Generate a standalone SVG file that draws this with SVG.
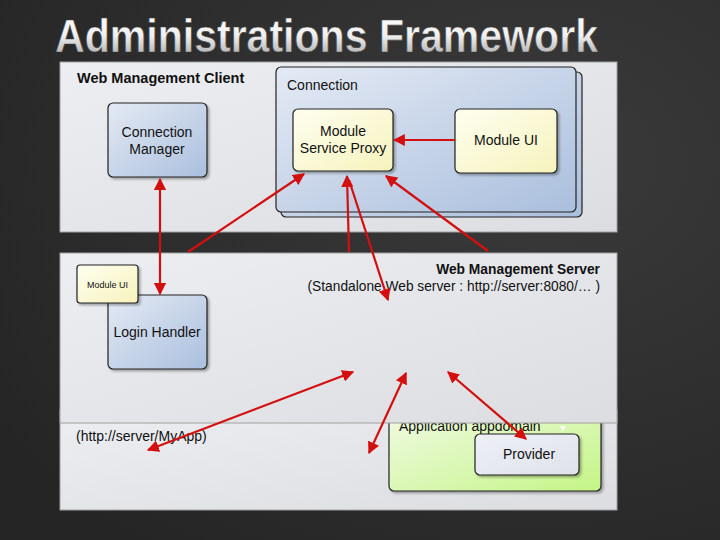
<svg xmlns="http://www.w3.org/2000/svg" width="720" height="540" viewBox="0 0 720 540">
<defs>
<radialGradient id="bg" cx="0.75" cy="0.3" r="0.9">
<stop offset="0" stop-color="#3a3a3a"/>
<stop offset="1" stop-color="#252525"/>
</radialGradient>
<linearGradient id="title" x1="0" y1="0" x2="0" y2="1">
<stop offset="0" stop-color="#ffffff"/>
<stop offset="0.5" stop-color="#f0f0f0"/>
<stop offset="1" stop-color="#9a9a9a"/>
</linearGradient>
<linearGradient id="panel" x1="0" y1="0" x2="1" y2="1">
<stop offset="0" stop-color="#eceef2"/>
<stop offset="1" stop-color="#dcdde0"/>
</linearGradient>
<linearGradient id="blue" x1="0" y1="0" x2="1" y2="1">
<stop offset="0" stop-color="#e4eaf4"/>
<stop offset="1" stop-color="#aabfdd"/>
</linearGradient>
<linearGradient id="yellow" x1="0" y1="0" x2="1" y2="1">
<stop offset="0" stop-color="#fefef0"/>
<stop offset="1" stop-color="#f6f3bc"/>
</linearGradient>
<linearGradient id="green" x1="0" y1="0" x2="1" y2="1">
<stop offset="0" stop-color="#f2fae6"/>
<stop offset="1" stop-color="#c4f586"/>
</linearGradient>
<linearGradient id="gray" x1="0" y1="0" x2="1" y2="1">
<stop offset="0" stop-color="#eef0f6"/>
<stop offset="1" stop-color="#dfe2ea"/>
</linearGradient>
<marker id="ah" viewBox="0 0 10 10" refX="9" refY="5" markerWidth="5.5" markerHeight="5.5" orient="auto-start-reverse" markerUnits="strokeWidth">
<path d="M0,0 L10,5 L0,10 z" fill="#d40f0f"/>
</marker>
<filter id="sh" x="-5%" y="-5%" width="115%" height="115%">
<feDropShadow dx="2" dy="2" stdDeviation="1" flood-color="#000" flood-opacity="0.3"/>
</filter>
</defs>
<style>
.lbl{font-family:"Liberation Sans",Arial,sans-serif;font-size:14px;fill:#111}
.bold{font-weight:bold;font-size:14.5px}
.srv{font-size:13.8px}
.sub{font-size:13.75px}
.small{font-size:9px}
.panel{fill:url(#panel);stroke:#a0a0a0;stroke-width:1}
.node{stroke:#222;stroke-width:1.2;filter:url(#sh)}
.conn{stroke:#d40f0f;stroke-width:2.2;fill:none}
</style>
<rect width="720" height="540" fill="url(#bg)"/>
<text x="55" y="52" font-family="'Liberation Sans',Arial,sans-serif" font-weight="bold" font-size="47" fill="url(#title)" stroke="#444" stroke-width="0.6" textLength="543" lengthAdjust="spacingAndGlyphs">Administrations Framework</text>

<g id="web-management-client">
<rect class="panel" x="60" y="62" width="557" height="170"/>
<text class="lbl bold" x="77" y="83">Web Management Client</text>
</g>
<g id="connection">
<rect x="281" y="72" width="301" height="145" rx="5" fill="url(#blue)" stroke="#222" stroke-width="1.2"/>
<rect x="276" y="67" width="300" height="145" rx="5" fill="url(#blue)" stroke="#222" stroke-width="1.2"/>
<text class="lbl" x="287" y="90">Connection</text>
</g>
<g id="connection-manager">
<rect class="node" x="108" y="103" width="99" height="74" rx="5" fill="url(#blue)"/>
<text class="lbl" x="157" y="137" text-anchor="middle">Connection</text>
<text class="lbl" x="157" y="154" text-anchor="middle">Manager</text>
</g>
<g id="module-service-proxy">
<rect class="node" x="293" y="109" width="100" height="62" rx="5" fill="url(#yellow)"/>
<text class="lbl" x="343" y="136" text-anchor="middle">Module</text>
<text class="lbl" x="343" y="153" text-anchor="middle">Service Proxy</text>
</g>
<g id="module-ui">
<rect class="node" x="455" y="109" width="102" height="64" rx="5" fill="url(#yellow)"/>
<text class="lbl" x="506" y="145" text-anchor="middle">Module UI</text>
</g>

<g id="iis">
<rect class="panel" x="60" y="410" width="557" height="100"/>
<text class="lbl" x="76" y="441">(http://server/MyApp)</text>
</g>
<g id="application-appdomain">
<rect class="node" x="389" y="405" width="212" height="86" rx="5" fill="url(#green)"/>
<text class="lbl" x="399" y="431">Application appdomain</text>
<path d="M560,426 L566,426 L563,431 z" fill="#fff"/>
</g>
<g id="provider">
<rect class="node" x="475" y="434" width="104" height="41" rx="5" fill="url(#gray)"/>
<text class="lbl" x="529" y="459" text-anchor="middle">Provider</text>
</g>

<g id="web-management-server">
<rect class="panel" x="60" y="253" width="557" height="170"/>
<text class="lbl bold srv" x="600" y="274" text-anchor="end">Web Management Server</text>
<text class="lbl sub" x="600" y="291" text-anchor="end">(Standalone Web server : http://server:8080/… )</text>
</g>
<g id="login-handler">
<rect class="node" x="108" y="295" width="99" height="74" rx="5" fill="url(#blue)"/>
<text class="lbl" x="157" y="337" text-anchor="middle">Login Handler</text>
</g>
<g id="module-ui-small">
<rect class="node" x="77" y="265" width="61" height="38" rx="3" fill="url(#yellow)"/>
<text class="lbl small" x="107.5" y="288" text-anchor="middle">Module UI</text>
</g>

<g id="connectors">
<line class="conn" x1="455" y1="140" x2="394" y2="140" marker-end="url(#ah)"/>
<line class="conn" x1="160" y1="179" x2="160" y2="294" marker-start="url(#ah)" marker-end="url(#ah)"/>
<line class="conn" x1="188" y1="252" x2="304" y2="174" marker-end="url(#ah)"/>
<line class="conn" x1="349" y1="252" x2="347" y2="176" marker-end="url(#ah)"/>
<line class="conn" x1="349" y1="180" x2="388" y2="300" marker-end="url(#ah)"/>
<line class="conn" x1="488" y1="251" x2="386" y2="176" marker-end="url(#ah)"/>
<line class="conn" x1="148" y1="450" x2="353" y2="372" marker-start="url(#ah)" marker-end="url(#ah)"/>
<line class="conn" x1="369" y1="453" x2="406" y2="373" marker-start="url(#ah)" marker-end="url(#ah)"/>
<line class="conn" x1="448" y1="372" x2="526" y2="439" marker-start="url(#ah)" marker-end="url(#ah)"/>
</g>
</svg>
